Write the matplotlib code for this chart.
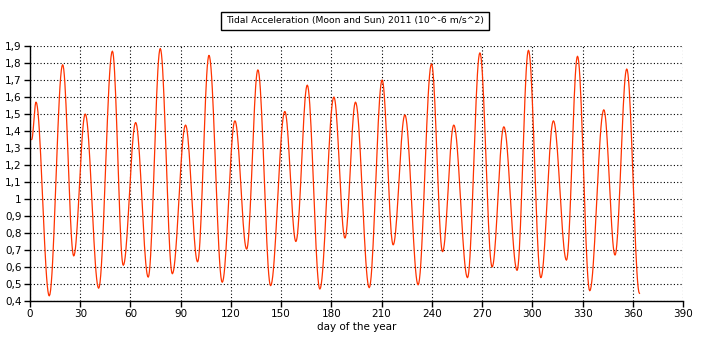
import matplotlib
matplotlib.use("Agg")
import matplotlib.pyplot as plt
from matplotlib.ticker import FuncFormatter, MultipleLocator
import numpy as np

# turning points of the curve (day, value)
days = [1, 3.6, 11.5, 19.5, 26.1, 33.0, 41.0, 49.2, 55.7, 63.1, 70.6, 77.8, 85.0,
        92.9, 100.1, 106.9, 114.8, 122.4, 129.4, 136.1, 143.7, 152.2, 158.8, 165.6,
        173.1, 181.5, 188.1, 194.4, 202.6, 210.3, 216.9, 223.9, 231.8, 239.8, 246.4,
        253.1, 261.3, 268.7, 276.0, 283.0, 290.9, 297.7, 305.1, 312.6, 320.4, 327.0,
        334.3, 342.7, 349.4, 356.4, 364]
accel = [1.35, 1.57, 0.43, 1.79, 0.665, 1.50, 0.475, 1.87, 0.61, 1.45, 0.54, 1.885, 0.56,
         1.435, 0.63, 1.845, 0.51, 1.46, 0.705, 1.76, 0.49, 1.515, 0.75, 1.67,
         0.47, 1.60, 0.77, 1.57, 0.478, 1.70, 0.73, 1.495, 0.495, 1.795, 0.69,
         1.435, 0.537, 1.86, 0.60, 1.425, 0.58, 1.875, 0.537, 1.46, 0.64, 1.84,
         0.46, 1.525, 0.67, 1.765, 0.445]

x_ticks = list(range(0, 391, 30))

# smooth half-cosine segments between turning points
xs, ys = [], []
for i in range(len(days) - 1):
    s = np.linspace(0, 1, 20, endpoint=False)
    xs.extend(days[i] + (days[i + 1] - days[i]) * s)
    ys.extend(accel[i] + (accel[i + 1] - accel[i]) * (1 - np.cos(np.pi * s)) / 2)
xs.append(days[-1])
ys.append(accel[-1])

fig = plt.figure(figsize=(7.11, 3.43), dpi=100)
ax = fig.add_axes([30 / 711, 1 - 301 / 343, 653 / 711, 255 / 343])

ax.plot(xs, ys, color="#ff3300", lw=0.9)

ax.set_xlim(0, 390)
ax.set_ylim(0.4, 1.9)
ax.set_xticks(x_ticks)
ax.yaxis.set_major_locator(MultipleLocator(0.1))
ax.yaxis.set_major_formatter(FuncFormatter(lambda v, p: f"{v:.1f}".rstrip("0").rstrip(".").replace(".", ",")))

ax.grid(True, color="black", linestyle=(0, (1, 2)), linewidth=0.8)
ax.spines["top"].set_visible(False)
ax.spines["right"].set_visible(False)
for s in ("left", "bottom"):
    ax.spines[s].set_linewidth(1.0)
ax.tick_params(labelsize=7.5, length=4, width=1, pad=2, color="black")

ax.set_xlabel("day of the year", fontsize=7.5, labelpad=2)

fig.text(355 / 711, 1 - 21 / 343, "Tidal Acceleration (Moon and Sun) 2011 (10^-6 m/s^2)",
         ha="center", va="center", fontsize=6.7,
         bbox=dict(boxstyle="square,pad=0.5", fc="white", ec="black", lw=1))

fig.savefig("out.png", dpi=100)
